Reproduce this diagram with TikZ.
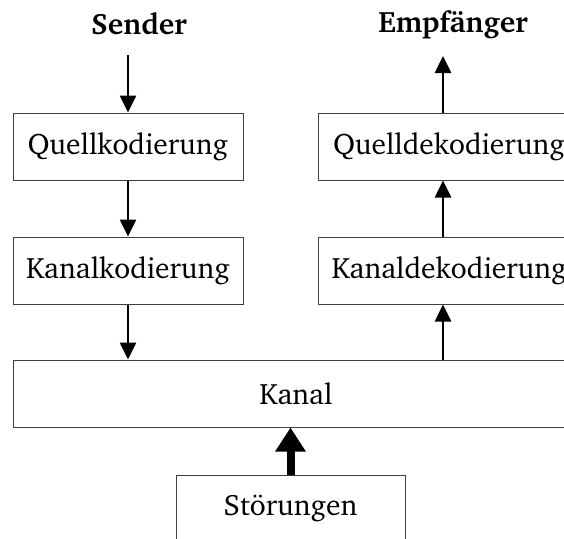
\documentclass[tikz,border=0pt]{standalone}
\usepackage[T1]{fontenc}
\usepackage{charter}
\usetikzlibrary{arrows.meta}
\begin{document}
\begin{tikzpicture}[x=1pt,y=-1pt,
  blk/.style={draw=black!75,line width=1pt,minimum height=67pt,inner sep=0pt,font=\fontsize{29.5}{34}\selectfont},
  ttl/.style={font=\fontsize{29.5}{34}\selectfont\bfseries},
  flow/.style={line width=2.6pt,-{Triangle[width=16pt,length=17pt]}},
  big/.style={line width=8pt,-{Triangle[width=29pt,length=24pt]}}]
\useasboundingbox (0,0) rectangle (564,538);
\clip (0,0) rectangle (564,538);
\node[blk,minimum width=230pt] (qk) at (128,146.5) {Quellkodierung};
\node[blk,minimum width=230pt] (kk) at (128,270.5) {Kanalkodierung};
\node[blk,minimum width=262pt] (qd) at (449,146.5) {Quelldekodierung};
\node[blk,minimum width=262pt] (kd) at (449,270.5) {Kanaldekodierung};
\node[blk,minimum width=566pt] (ka) at (296,393.5) {Kanal};
\node[blk,minimum width=229pt] (st) at (290.5,508.5) {Störungen};
\node[ttl] (se) at (139,24) {Sender};
\node[ttl] (em) at (453,24) {Empfänger};
\coordinate (sin) at (128,55);
\coordinate (eout) at (443,56);
\draw[flow] (sin) -- (qk.north);
\draw[flow] (qk.south) -- (kk.north);
\draw[flow] (kk.south) -- (kk.south |- ka.north);
\draw[flow] (ka.north -| eout) -- (kd.south -| eout);
\draw[flow] (kd.north -| eout) -- (qd.south -| eout);
\draw[flow] (qd.north -| eout) -- (eout);
\draw[big] (st.north) -- (st.north |- ka.south);
\end{tikzpicture}
\end{document}
